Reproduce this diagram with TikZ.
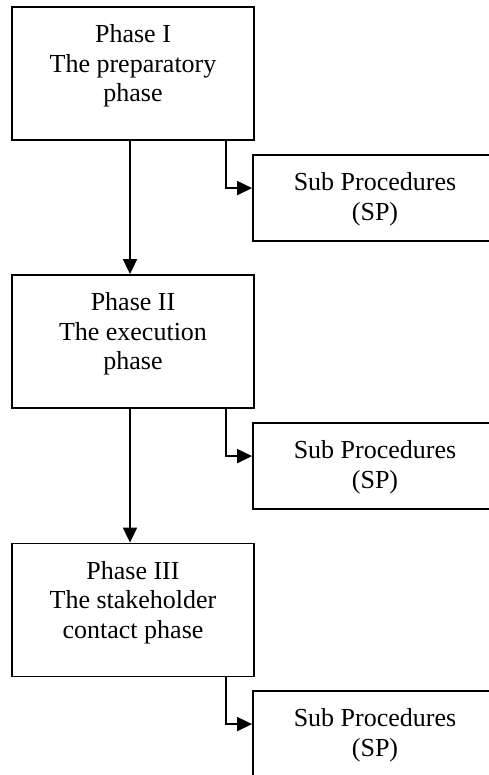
\documentclass[tikz,border=0pt]{standalone}
\usepackage{fontspec}
\setmainfont{Liberation Serif}
\usetikzlibrary{arrows.meta}
\tikzset{
 phase/.style={draw, line width=1.8pt, inner sep=0pt, font=\fontsize{26}{29.5}\selectfont},
 flow/.style={line width=1.8pt, -{Triangle[length=15pt,width=14pt]}}
}
\newcommand{\boxtext}[3]{\parbox[c][#2][t]{#1}{\centering\rule{0pt}{36pt}#3}}
\begin{document}
\begin{tikzpicture}[x=1pt,y=1pt]
 \clip (0,0) rectangle (489,775);
 % phases
 \node[phase] (ph1) at (133,701.5) {\boxtext{242pt}{133pt}{Phase I\\The preparatory\\phase}};
 \node[phase] (ph2) at (133,433.5) {\boxtext{242pt}{133pt}{Phase II\\The execution\\phase}};
 \node[phase] (ph3) at (133,165) {\boxtext{242pt}{133pt}{Phase III\\The stakeholder\\contact phase}};
 % sub procedures
 \node[phase] (sp1) at (375,577) {\boxtext{244pt}{86pt}{Sub Procedures\\(SP)}};
 \node[phase] (sp2) at (375,309) {\boxtext{244pt}{86pt}{Sub Procedures\\(SP)}};
 \node[phase] (sp3) at (375,41) {\boxtext{244pt}{86pt}{Sub Procedures\\(SP)}};
 % arrows
 \draw[flow] ([xshift=-3pt]ph1.south) -- ([xshift=-3pt]ph2.north);
 \draw[flow] ([xshift=-3pt]ph2.south) -- ([xshift=-3pt]ph3.north);
 \draw[flow] ([xshift=93pt]ph1.south) |- ([yshift=-34pt]sp1.north west);
 \draw[flow] ([xshift=93pt]ph2.south) |- ([yshift=-34pt]sp2.north west);
 \draw[flow] ([xshift=93pt]ph3.south) |- ([yshift=-34pt]sp3.north west);
\end{tikzpicture}
\end{document}
